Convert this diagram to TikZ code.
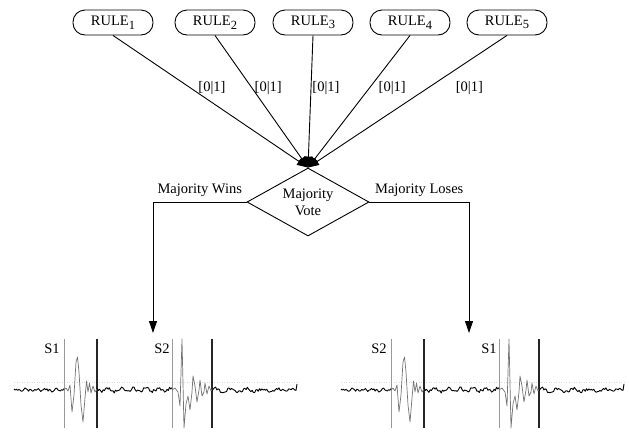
\documentclass[tikz,border=0pt]{standalone}
\usepackage{fontspec}
\setmainfont{Liberation Serif}
\usetikzlibrary{arrows.meta,shapes.geometric}

\newcommand\rulesub[1]{RULE\raisebox{-3.5pt}{\fontsize{12.5}{13}\selectfont #1}}

\tikzset{
  txt/.style={font=\fontsize{14.5}{16}\selectfont, inner sep=1pt},
  rulebox/.style={draw, line width=0.9pt, rounded corners=12pt,
    minimum width=80pt, minimum height=25pt, inner sep=0pt, txt},
  votebox/.style={draw, diamond, aspect=1.8, line width=0.9pt,
    minimum width=122pt, minimum height=68pt, inner sep=0pt,
    align=center, font=\fontsize{14.5}{17}\selectfont},
  conn/.style={line width=0.9pt, -{Triangle[length=11pt,width=8pt]}},
  branch/.style={line width=0.9pt, -{Triangle[length=12pt,width=8pt]}},
  lab/.style={txt, inner sep=0pt},
  noise/.style={line width=0.9pt, line join=round, black},
  burst/.style={line width=0.7pt, line join=round, black!55},
  mark gray/.style={line width=0.8pt, black!40},
  mark dark/.style={line width=1.1pt, black!85},
}

% One EEG-like trace with two marked events; #1/#2 are the event labels,
% #3 a prefix for the node names.
\newcommand\eegtrace[3]{%
  \pgfmathsetseed{4711}
  \draw[black!15, dotted, line width=0.5pt] (14,382) -- (297,382);
  \draw[mark gray] (64,339) -- (64,428);
  \draw[mark dark] (97,339) -- (97,428);
  \draw[mark gray] (172,339) -- (172,428);
  \draw[mark dark] (212,339) -- (212,428);
  \draw[noise] plot[domain=14:64, samples=42] (\x,{390+1.2*sin(\x*37)+1.6*rand});
  \draw[noise] plot[domain=97:172, samples=62] (\x,{390+1.4*sin(\x*29)+1.7*rand});
  \draw[noise] plot[domain=212:296, samples=70] (\x,{390+1.5*sin(\x*23)+1.7*rand}) -- (297,384);
  \draw[burst] (64,390) -- (66,388) -- (68,391) -- (70,385) -- (72,412) -- (74,395)
    -- (76,362) -- (77.5,357) -- (79,372) -- (81,405) -- (83,422) -- (85,398)
    -- (86.5,381) -- (88,392) -- (89.5,383) -- (91,393) -- (93,386) -- (95,392) -- (97,389);
  \draw[burst] (172,390) -- (175,388) -- (178,392) -- (180,406) -- (182,339) -- (184,428)
    -- (186,404) -- (188,396) -- (190,410) -- (192,392) -- (193,376) -- (195,386)
    -- (197,402) -- (199,390) -- (200,380) -- (202,396) -- (204,392) -- (205,383)
    -- (207,394) -- (209,386) -- (211,391) -- (212,389);
  \node[txt] (#3a) at (52,349) {#1};
  \node[txt] (#3b) at (162,349) {#2};
}

\begin{document}
\begin{tikzpicture}[x=1pt, y=-1pt]
  \useasboundingbox (0,0) rectangle (629,432);

  % rule boxes
  \node[rulebox] (r1) at (113,22.5) {\rulesub{1}};
  \node[rulebox] (r2) at (215,22.5) {\rulesub{2}};
  \node[rulebox] (r3) at (313,22.5) {\rulesub{3}};
  \node[rulebox] (r4) at (410,22.5) {\rulesub{4}};
  \node[rulebox] (r5) at (507,22.5) {\rulesub{5}};

  % voting diamond
  \node[votebox] (vote) at (308,202) {Majority\\Vote};

  % rule outputs into the vote
  \draw[conn] (r1.south) -- node[lab, pos=0.4, xshift=21pt] {[0|1]} (vote.north);
  \draw[conn] (r2.south) -- node[lab, pos=0.4, xshift=16pt] {[0|1]} (vote.north);
  \draw[conn] (r3.south) -- node[lab, pos=0.4, xshift=15pt] {[0|1]} (vote.north);
  \draw[conn] (r4.south) -- node[lab, pos=0.4, xshift=23pt] {[0|1]} (vote.north);
  \draw[conn] (r5.south) -- node[lab, pos=0.4, xshift=42pt] {[0|1]} (vote.north);

  % outcome branches
  \coordinate (win) at (153,333);
  \coordinate (lose) at (469,333);
  \draw[branch] (vote.west) -| node[lab, pos=0.25, above=5pt] {Majority Wins} (win);
  \draw[branch] (vote.east) -| node[lab, pos=0.25, above=5pt] {Majority Loses} (lose);

  % resulting traces
  \begin{scope}
    \eegtrace{S1}{S2}{lt}
  \end{scope}
  \begin{scope}[xshift=327pt]
    \eegtrace{S2}{S1}{rt}
  \end{scope}
\end{tikzpicture}
\end{document}
